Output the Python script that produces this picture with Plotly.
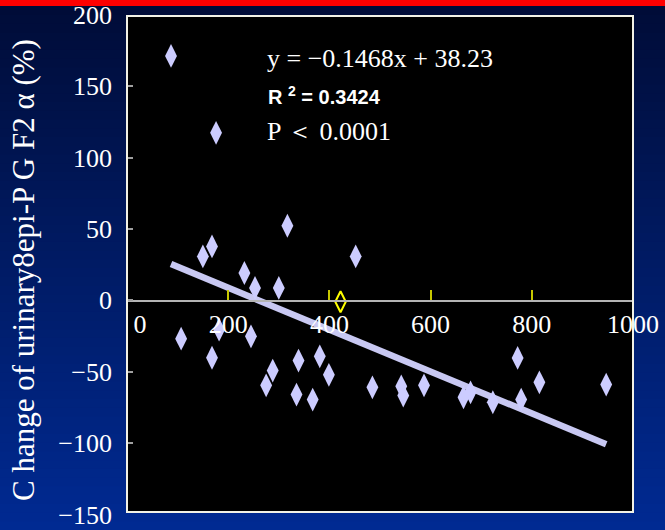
import plotly.graph_objects as go

# Dose (x) and change of urinary 8-epi-PGF2α (%) for each subject
dose = [87, 176, 317, 168, 150, 452, 232, 253, 300, 107, 182, 245, 168, 381, 339,
        288, 399, 275, 335, 367, 485, 542, 546, 587, 665, 679, 723, 772, 779, 815, 947]
change = [171.3, 117.4, 52.3, 37.8, 30.8, 30.8, 19.2, 8.7, 8.7, -26.8, -20.5, -25.2,
          -40.2, -39.2, -42.2, -49.2, -52.2, -59.5, -66.0, -69.5, -60.9, -60.2, -66.7,
          -59.5, -67.9, -64.4, -71.4, -40.3, -69.5, -57.4, -59.0]

# Highlighted (open) point
mark_x = [422]
mark_y = [-1]

# Linear fit
slope = -0.1468
intercept = 38.23
r_squared = 0.3424

x_ticks = [0, 200, 400, 600, 800, 1000]
x_tick_text = ["\u2002\u20020", "200", "400", "600", "800", "1000"]
y_ticks = [-150, -100, -50, 0, 50, 100, 150, 200]

W, H = 665, 530
ML, MR, MT, MB = 127, 32, 15, 15
PW, PH = W - ML - MR, H - MT - MB


def px_x(p):
    return (p - ML) / PW


def px_y(p):
    return (H - MB - p) / PH


fig = go.Figure()

fit_x = sorted(dose)
fit_y = [slope * v + intercept for v in fit_x]
fig.add_trace(go.Scatter(x=[fit_x[0], fit_x[-1]], y=[fit_y[0], fit_y[-1]], mode="lines",
                         line=dict(color="#c8c8f2", width=6.5), hoverinfo="skip"))
fig.add_trace(go.Scatter(x=dose, y=change, mode="markers",
                         marker=dict(symbol="diamond-tall", size=17, color="#ccccff",
                                     line=dict(width=0))))
fig.add_trace(go.Scatter(x=mark_x, y=mark_y, mode="markers",
                         marker=dict(symbol="diamond-tall-open", size=15, color="#ffff00",
                                     line=dict(width=2, color="#ffff00"))))

shapes = []
# vertical blue gradient background
top_px, bot_px = 6, H
n = 60
c0 = (0, 12, 56)
c1 = (0, 42, 146)
for i in range(n):
    a = top_px + (bot_px - top_px) * i / n
    b = top_px + (bot_px - top_px) * (i + 1) / n + 1
    t = i / (n - 1)
    col = "rgb(%d,%d,%d)" % tuple(round(c0[k] + (c1[k] - c0[k]) * t) for k in range(3))
    shapes.append(dict(type="rect", xref="paper", yref="paper", layer="below",
                       x0=px_x(0), x1=px_x(W), y0=px_y(b), y1=px_y(a),
                       fillcolor=col, line=dict(width=0)))
# red band at the top
shapes.append(dict(type="rect", xref="paper", yref="paper", layer="below",
                   x0=px_x(0), x1=px_x(W), y0=px_y(6), y1=px_y(-2),
                   fillcolor="#ff0000", line=dict(width=0)))
# black plotting area
shapes.append(dict(type="rect", xref="paper", yref="paper", layer="below",
                   x0=0, x1=1, y0=px_y(512), y1=px_y(16),
                   fillcolor="#000000", line=dict(width=0)))
# frame
shapes.append(dict(type="rect", xref="paper", yref="paper", layer="above",
                   x0=0, x1=1, y0=px_y(512), y1=px_y(16),
                   fillcolor="rgba(0,0,0,0)", line=dict(color="#f2f2e6", width=2)))

serif = "Liberation Serif, Times New Roman, serif"
narrow = "Liberation Sans Narrow, Liberation Sans, Arial, sans-serif"

annotations = [
    dict(text="y = \u2212%.4fx + %.2f" % (abs(slope), intercept), xref="paper", yref="paper",
         x=px_x(265), y=px_y(59), xanchor="left", yanchor="middle", showarrow=False,
         font=dict(family=serif, size=26, color="white")),
    dict(text="<b>R <sup>2</sup> = %.4f</b>" % r_squared, xref="paper", yref="paper",
         x=px_x(266), y=px_y(95), xanchor="left", yanchor="middle", showarrow=False,
         font=dict(family=narrow, size=20, color="white")),
    dict(text="P \uff1c 0.0001", xref="paper", yref="paper",
         x=px_x(265), y=px_y(131), xanchor="left", yanchor="middle", showarrow=False,
         font=dict(family=serif, size=26, color="white")),
    dict(text="C hange of urinary8epi-P G F2 \u03b1 (%)", xref="paper", yref="paper",
         x=px_x(23), y=px_y(270), xanchor="center", yanchor="middle", textangle=-90,
         showarrow=False, font=dict(family=serif, size=31, color="white")),
]

fig.update_layout(
    width=W, height=H,
    margin=dict(l=ML, r=MR, t=MT, b=MB, pad=0, autoexpand=False),
    paper_bgcolor="#001a60",
    plot_bgcolor="rgba(0,0,0,0)",
    showlegend=False,
    shapes=shapes,
    annotations=annotations,
    xaxis=dict(range=[0, 1000], tickvals=x_ticks, ticktext=x_tick_text,
               anchor="free", position=150 / 350, showgrid=False, zeroline=False,
               automargin=False,
               showline=True, linecolor="#b4b4b4", linewidth=2,
               ticks="inside", ticklen=10, tickwidth=2, tickcolor="#c8c800",
               tickfont=dict(family=serif, size=26, color="white")),
    yaxis=dict(range=[-150.4, 200], tickvals=y_ticks, showgrid=False, zeroline=False,
               automargin=False,
               showline=False, ticks="inside", ticklen=6, tickwidth=1.5,
               tickcolor="#a0a0a0", ticklabelstandoff=14,
               tickfont=dict(family=serif, size=26, color="white")),
)

fig.write_html("out.html")
